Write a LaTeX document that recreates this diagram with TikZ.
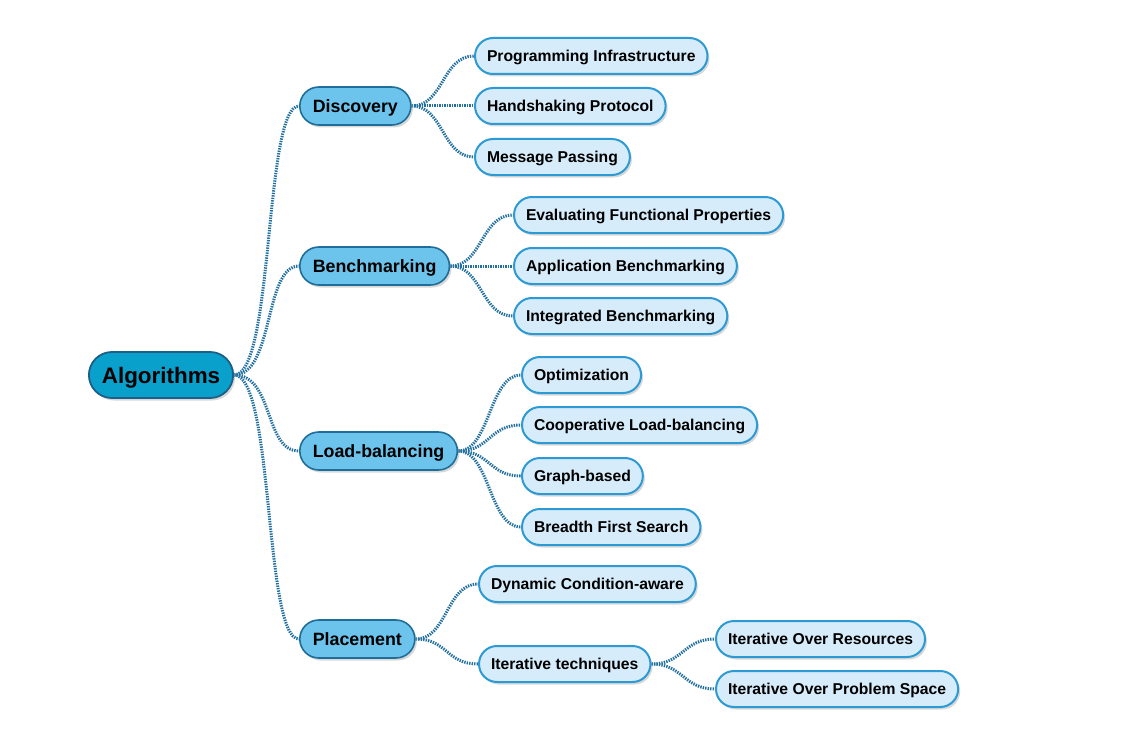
\documentclass[tikz,border=0pt]{standalone}
\usepackage{fontspec}
\setmainfont{Liberation Sans}
\usepackage{tikz}
\usetikzlibrary{positioning,shadows,backgrounds}
\definecolor{rootfill}{HTML}{0AA0CC}
\definecolor{rootline}{HTML}{1D5F86}
\definecolor{midfill}{HTML}{6CC4EC}
\definecolor{midline}{HTML}{1F6E99}
\definecolor{leaffill}{HTML}{D6ECFA}
\definecolor{leafline}{HTML}{2D9AD4}
\definecolor{linkcol}{HTML}{22709F}
\tikzstyle{shade}  = [drop shadow={shadow xshift=2pt, shadow yshift=-2.5pt, fill=black!30, opacity=0.5}]
\tikzstyle{root}   = [rectangle, rounded corners=23pt, draw=rootline, line width=1.8pt, fill=rootfill,
                      minimum height=46pt, inner xsep=13pt, anchor=west, shade,
                      text height=16pt, text depth=0pt,
                      font=\fontsize{22.4}{26}\selectfont\bfseries]
\tikzstyle{branch} = [rectangle, rounded corners=19pt, draw=midline, line width=1.6pt, fill=midfill,
                      minimum height=38pt, inner xsep=13pt, anchor=west, shade,
                      text height=12.7pt, text depth=0pt,
                      font=\fontsize{17.8}{21}\selectfont\bfseries]
\tikzstyle{leaf}   = [rectangle, rounded corners=18pt, draw=leafline, line width=2pt, fill=leaffill,
                      minimum height=36pt, inner xsep=12pt, anchor=west, shade,
                      text height=11.2pt, text depth=0pt,
                      font=\fontsize{15.7}{19}\selectfont\bfseries]
\tikzstyle{link}   = [draw=linkcol, line width=3pt, dash pattern=on 1.4pt off 1.1pt]

\begin{document}
\begin{tikzpicture}[x=1pt, y=-1pt]
		\useasboundingbox (0,0) rectangle (1146,749);

		\node[root] (alg) at (88,375) {Algorithms};

		\node[branch] (disc)  at (299,106) {Discovery};
		\node[branch] (bench) at (299,266) {Benchmarking};
		\node[branch] (load)  at (299,451) {Load-balancing};
		\node[branch] (place) at (299,639) {Placement};

		\node[leaf] (prog)  at (474,56)  {Programming Infrastructure};
		\node[leaf] (hand)  at (474,106) {Handshaking Protocol};
		\node[leaf] (msg)   at (474,157) {Message Passing};

		\node[leaf] (eval)  at (513,215) {Evaluating Functional Properties};
		\node[leaf] (appl)  at (513,266) {Application Benchmarking};
		\node[leaf] (integ) at (513,316) {Integrated Benchmarking};

		\node[leaf] (optim) at (521,375) {Optimization};
		\node[leaf] (coop)  at (521,425) {Cooperative Load-balancing};
		\node[leaf] (graph) at (521,476) {Graph-based};
		\node[leaf] (bfs)   at (521,527) {Breadth First Search};

		\node[leaf] (dyn)   at (478,584) {Dynamic Condition-aware};
		\node[leaf] (iter)  at (478,664) {Iterative techniques};

		\node[leaf] (itres) at (715,639) {Iterative Over Resources};
		\node[leaf] (itps)  at (715,689) {Iterative Over Problem Space};

		\begin{scope}[on background layer]
		\foreach \c in {disc,bench,load,place}
			\draw[link] (alg.east) .. controls +(40,0) and +(-35,0) .. (\c.west);
		\foreach \c in {prog,hand,msg}
			\draw[link] (disc.east) .. controls +(32,0) and +(-32,0) .. (\c.west);
		\foreach \c in {eval,appl,integ}
			\draw[link] (bench.east) .. controls +(32,0) and +(-32,0) .. (\c.west);
		\foreach \c in {optim,coop,graph,bfs}
			\draw[link] (load.east) .. controls +(32,0) and +(-32,0) .. (\c.west);
		\foreach \c in {dyn,iter}
			\draw[link] (place.east) .. controls +(32,0) and +(-32,0) .. (\c.west);
		\foreach \c in {itres,itps}
			\draw[link] (iter.east) .. controls +(32,0) and +(-32,0) .. (\c.west);
		\end{scope}
	\end{tikzpicture}
\end{document}
